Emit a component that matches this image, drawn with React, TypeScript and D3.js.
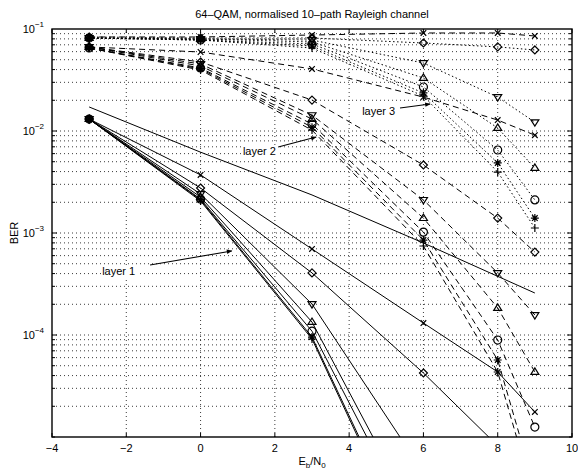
import React from 'react';
import * as d3 from 'd3';

// Eb/N0 points where the curves were sampled
const ebn0 = [-3, 0, 3, 6, 8, 9];
const boundEbn0 = [-3, 0, 3, 6, 9];

// layer 1 (solid)
const l1Bound = [1.72e-2, 6.2e-3, 2.36e-3, 7.98e-4, 2.58e-4];
const l1X = [1.31e-2, 3.71e-3, 6.97e-4, 1.31e-4, 4.34e-5, 1.76e-5];
const l1Dia = [1.31e-2, 2.76e-3, 4.06e-4, 4.24e-5, 8.2e-6];
const l1Down = [1.31e-2, 2.41e-3, 2.01e-4, 4.5e-6];
const l1Up = [1.31e-2, 2.25e-3, 1.34e-4, 1.17e-6];
const l1Circ = [1.31e-2, 2.15e-3, 1.09e-4, 8.5e-7];
const l1Star = [1.31e-2, 2.11e-3, 9.55e-5, 4.6e-7];
const l1Plus = [1.31e-2, 2.06e-3, 9.14e-5, 4.2e-7];

// layer 2 (dashed)
const l2X = [6.67e-2, 5.95e-2, 4.06e-2, 2.15e-2, 1.28e-2, 9.1e-3];
const l2Dia = [6.67e-2, 4.75e-2, 2.01e-2, 4.64e-3, 1.4e-3, 6.5e-4];
const l2Down = [6.67e-2, 4.54e-2, 1.43e-2, 2.11e-3, 4.06e-4, 1.57e-4];
const l2Up = [6.67e-2, 4.34e-2, 1.31e-2, 1.4e-3, 1.84e-4, 4.34e-5];
const l2Circ = [6.51e-2, 4.15e-2, 1.17e-2, 1.02e-3, 8.93e-5, 1.25e-5];
const l2Star = [6.51e-2, 4.06e-2, 1.09e-2, 8.53e-4, 5.69e-5, 3.16e-6];
const l2Plus = [6.51e-2, 3.96e-2, 1.02e-2, 7.46e-4, 4.34e-5, 2.41e-6];

// layer 3 (dotted)
const l3X = [8.35e-2, 8.35e-2, 8.73e-2, 9.14e-2, 9.14e-2, 8.54e-2];
const l3Dia = [8.35e-2, 8.16e-2, 8.16e-2, 7.29e-2, 6.67e-2, 6.23e-2];
const l3Down = [8.16e-2, 7.98e-2, 7.8e-2, 4.64e-2, 2.15e-2, 1.22e-2];
const l3Up = [8.16e-2, 7.98e-2, 7.46e-2, 3.31e-2, 1.07e-2, 4.34e-3];
const l3Circ = [8.16e-2, 7.8e-2, 7.13e-2, 2.7e-2, 6.51e-3, 2.11e-3];
const l3Star = [8.16e-2, 7.8e-2, 6.81e-2, 2.36e-2, 4.86e-3, 1.4e-3];
const l3Plus = [8.16e-2, 7.8e-2, 6.51e-2, 2.2e-2, 3.96e-3, 1.12e-3];

const xTicks = [-4, -2, 0, 2, 4, 6, 8, 10];
const yMajor = [1e-1, 1e-2, 1e-3, 1e-4];

const titleText = '64–QAM, normalised 10–path Rayleigh channel';

// annotation arrows: label, text anchor [x, y], arrow tail, arrow head (data units)
const notes = [
  { label: 'layer 1', at: [-2.65, 3.87e-4], from: [-1.36, 4.85e-4], to: [0.84, 6.67e-4] },
  { label: 'layer 2', at: [1.14, 5.82e-3], from: [2.09, 6.97e-3], to: [3.11, 8.73e-3] },
  { label: 'layer 3', at: [4.35, 1.43e-2], from: [5.37, 1.68e-2], to: [6.18, 1.84e-2] },
];

type Mk = 'x' | 'dia' | 'down' | 'up' | 'circ' | 'star' | 'plus' | 'none';

const SOLID = '';
const DASH = '6,4';
const DOT = '1.5,2.5';

const series: { xs: number[]; ys: number[]; mk: Mk; dash: string }[] = [
  { xs: boundEbn0, ys: l1Bound, mk: 'none', dash: SOLID },
  { xs: ebn0, ys: l1X, mk: 'x', dash: SOLID },
  { xs: ebn0, ys: l1Dia, mk: 'dia', dash: SOLID },
  { xs: ebn0, ys: l1Down, mk: 'down', dash: SOLID },
  { xs: ebn0, ys: l1Up, mk: 'up', dash: SOLID },
  { xs: ebn0, ys: l1Circ, mk: 'circ', dash: SOLID },
  { xs: ebn0, ys: l1Star, mk: 'star', dash: SOLID },
  { xs: ebn0, ys: l1Plus, mk: 'plus', dash: SOLID },
  { xs: ebn0, ys: l2X, mk: 'x', dash: DASH },
  { xs: ebn0, ys: l2Dia, mk: 'dia', dash: DASH },
  { xs: ebn0, ys: l2Down, mk: 'down', dash: DASH },
  { xs: ebn0, ys: l2Up, mk: 'up', dash: DASH },
  { xs: ebn0, ys: l2Circ, mk: 'circ', dash: DASH },
  { xs: ebn0, ys: l2Star, mk: 'star', dash: DASH },
  { xs: ebn0, ys: l2Plus, mk: 'plus', dash: DASH },
  { xs: ebn0, ys: l3X, mk: 'x', dash: DASH },
  { xs: ebn0, ys: l3Dia, mk: 'dia', dash: DOT },
  { xs: ebn0, ys: l3Down, mk: 'down', dash: DOT },
  { xs: ebn0, ys: l3Up, mk: 'up', dash: DOT },
  { xs: ebn0, ys: l3Circ, mk: 'circ', dash: DOT },
  { xs: ebn0, ys: l3Star, mk: 'star', dash: DOT },
  { xs: ebn0, ys: l3Plus, mk: 'plus', dash: DOT },
];

const W = 578;
const H = 470;
const M = { left: 52, right: 6, top: 29, bottom: 33 };

function markerPath(mk: Mk, r: number) {
  const h = r * 0.7;
  switch (mk) {
    case 'x':
      return `M${-h},${-h}L${h},${h}M${-h},${h}L${h},${-h}`;
    case 'plus':
      return `M${-r},0L${r},0M0,${-r}L0,${r}`;
    case 'star':
      return `M${-r},0L${r},0M0,${-r}L0,${r}M${-h},${-h}L${h},${h}M${-h},${h}L${h},${-h}`;
    case 'dia':
      return `M0,${-r}L${r},0L0,${r}L${-r},0Z`;
    case 'down':
      return `M${-r},${-r * 0.6}L${r},${-r * 0.6}L0,${r}Z`;
    case 'up':
      return `M${-r},${r * 0.6}L${r},${r * 0.6}L0,${-r}Z`;
    case 'circ':
      return d3.symbol(d3.symbolCircle, Math.PI * r * r)() || '';
    default:
      return '';
  }
}

export default function App() {
  const x = d3.scaleLinear().domain([-4, 10]).range([M.left, W - M.right]);
  const y = d3.scaleLog().domain([1e-5, 1e-1]).range([H - M.bottom, M.top]);
  const [x0, x1] = x.range();
  const [y0, y1] = y.range();

  const minor: number[] = [];
  for (let e = -5; e < -1; e++) {
    for (let k = 1; k < 10; k++) minor.push(k * Math.pow(10, e));
  }

  const line = d3
    .line<number>()
    .x((_, i) => 0)
    .y(() => 0);

  const font = 'Liberation Sans, Arial, Helvetica, sans-serif';

  return (
    <svg
      width={W}
      height={H}
      style={{ position: 'absolute', left: 0, top: 0, background: '#fff' }}
      fontFamily={font}
    >
      <defs>
        <clipPath id="plot">
          <rect x={x0} y={y1} width={x1 - x0} height={y0 - y1} />
        </clipPath>
        <marker id="arr" viewBox="0 0 10 10" refX="9" refY="5" markerWidth="7" markerHeight="5" orient="auto">
          <path d="M0,1L10,5L0,9Z" fill="#000" />
        </marker>
      </defs>

      {/* grid */}
      <g stroke="#000" strokeWidth={0.9} strokeDasharray="1,3" opacity={0.85}>
        {xTicks.slice(1, -1).map((t) => (
          <line key={'gx' + t} x1={x(t)} x2={x(t)} y1={y0} y2={y1} />
        ))}
        {minor.slice(1).map((t, i) => (
          <line key={'gy' + i} x1={x0} x2={x1} y1={y(t)} y2={y(t)} />
        ))}
      </g>

      {/* data */}
      <g clipPath="url(#plot)" fill="none" stroke="#000">
        {series.map((s, si) => {
          const pts = s.ys.map((v, i) => [x(s.xs[i]), y(v)] as [number, number]);
          const d = d3.line()(pts) || '';
          return (
            <g key={si}>
              <path d={d} strokeWidth={1} strokeDasharray={s.dash || undefined} />
              {s.mk !== 'none' &&
                pts
                  .filter((_, i) => s.ys[i] >= 1e-5)
                  .map((p, i) => (
                    <path
                      key={i}
                      d={markerPath(s.mk, 4)}
                      transform={`translate(${p[0]},${p[1]})`}
                      strokeWidth={1.2}
                    />
                  ))}
            </g>
          );
        })}
      </g>

      {/* axes box and ticks */}
      <rect x={x0} y={y1} width={x1 - x0} height={y0 - y1} fill="none" stroke="#000" strokeWidth={1.4} />
      <g stroke="#000" strokeWidth={1}>
        {xTicks.map((t) => (
          <g key={'tx' + t}>
            <line x1={x(t)} x2={x(t)} y1={y0} y2={y0 - 4} />
            <line x1={x(t)} x2={x(t)} y1={y1} y2={y1 + 4} />
          </g>
        ))}
        {minor.map((t, i) => {
          const len = yMajor.includes(t) ? 5 : 3;
          return (
            <g key={'ty' + i}>
              <line x1={x0} x2={x0 + len} y1={y(t)} y2={y(t)} />
              <line x1={x1} x2={x1 - len} y1={y(t)} y2={y(t)} />
            </g>
          );
        })}
      </g>

      {/* tick labels */}
      <g fontSize={11} fill="#000">
        {xTicks.map((t) => (
          <text key={'lx' + t} x={x(t)} y={y0 + 15} textAnchor="middle">
            {d3.format('d')(t)}
          </text>
        ))}
        {yMajor.map((t) => (
          <text key={'ly' + t} x={x0 - 8} y={y(t) + 4} textAnchor="end">
            10
            <tspan fontSize={8} dy={-6}>
              {'−' + Math.round(-Math.log10(t))}
            </tspan>
          </text>
        ))}
      </g>

      {/* titles */}
      <text x={(x0 + x1) / 2} y={18} textAnchor="middle" fontSize={11}>
        {titleText}
      </text>
      <text x={(x0 + x1) / 2} y={y0 + 28} textAnchor="middle" fontSize={11}>
        E
        <tspan fontSize={8} dy={3}>b</tspan>
        <tspan dy={-3}>/N</tspan>
        <tspan fontSize={8} dy={3}>0</tspan>
      </text>
      <text transform={`translate(18,${(y0 + y1) / 2}) rotate(-90)`} textAnchor="middle" fontSize={11}>
        BER
      </text>

      {/* layer annotations */}
      <g fontSize={11}>
        {notes.map((n) => (
          <g key={n.label}>
            <rect
              x={x(n.at[0]) - 1}
              y={y(n.at[1]) - 10}
              width={36}
              height={13}
              fill="#fff"
            />
            <text x={x(n.at[0])} y={y(n.at[1])}>
              {n.label}
            </text>
            <line
              x1={x(n.from[0])}
              y1={y(n.from[1])}
              x2={x(n.to[0])}
              y2={y(n.to[1])}
              stroke="#000"
              strokeWidth={1.1}
              markerEnd="url(#arr)"
            />
          </g>
        ))}
      </g>
    </svg>
  );
}
